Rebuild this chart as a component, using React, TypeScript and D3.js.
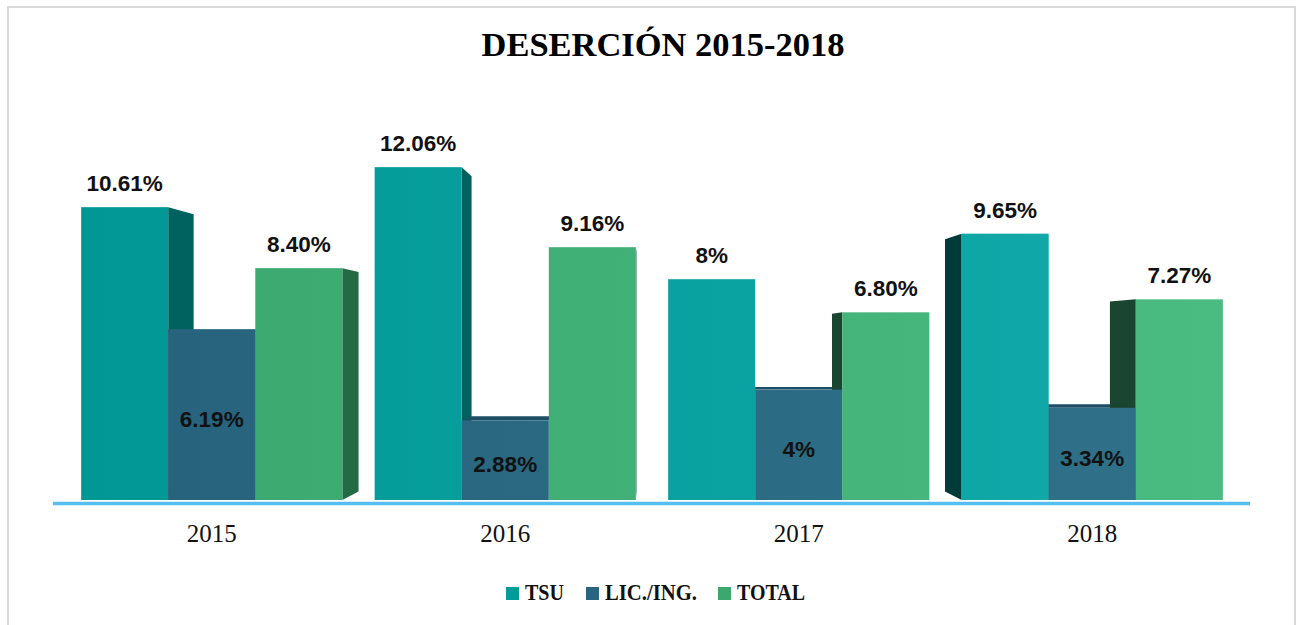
import React from "react";
import * as d3 from "d3";

const years = ["2015", "2016", "2017", "2018"];
const seriesNames = ["TSU", "LIC./ING.", "TOTAL"];
const tsu = [10.61, 12.06, 8, 9.65];
const lic = [6.19, 2.88, 4, 3.34];
const total = [8.4, 9.16, 6.8, 7.27];
const tsuLabels = ["10.61%", "12.06%", "8%", "9.65%"];
const licLabels = ["6.19%", "2.88%", "4%", "3.34%"];
const totalLabels = ["8.40%", "9.16%", "6.80%", "7.27%"];

const W = 1296;
const H = 625;
const baseY = 500;
const VP = { x: 648, y: 340 };
const K = 0.053;

const frontStops = [
  ["#009794", "#13abab"],
  ["#27627c", "#30718a"],
  ["#39a76e", "#4abb81"],
];
const rightSide = ["#00625f", "#1f4d63", "#236b45"];
const leftSide = ["#003b3a", "#163848", "#1a4530"];
const topFace = ["#00615e", "#1e4e66", "#236b45"];
const legendColors = ["#009c99", "#2a6580", "#3ba86e"];

export default function App() {
  const x0 = d3.scaleBand<string>().domain(years).range([65, 1239]).paddingInner(0.11).paddingOuter(0.055);
  const x1 = d3.scaleBand<string>().domain(seriesNames).range([0, x0.bandwidth()]);
  const y = d3.scaleLinear().domain([0, 14]).range([baseY, baseY - 14 * 27.6]);

  const data = [tsu, lic, total];
  const labels = [tsuLabels, licLabels, totalLabels];

  type Bar = { s: number; i: number; xa: number; xb: number; top: number };
  const bars: Bar[] = [];
  years.forEach((yr, i) => {
    seriesNames.forEach((sn, s) => {
      const xa = (x0(yr) as number) + (x1(sn) as number);
      const xb = xa + x1.bandwidth();
      bars.push({ s, i, xa, xb, top: y(data[s][i]) });
    });
  });

  const proj = (px: number, py: number) => [px + K * (VP.x - px), py + K * (VP.y - py)];
  const pts = (arr: number[][]) => arr.map((p) => p.join(",")).join(" ");

  const backFaces: React.ReactNode[] = [];
  bars.forEach((b, idx) => {
    if (b.xb < VP.x) {
      const a = proj(b.xb, b.top);
      const c = proj(b.xb, baseY);
      backFaces.push(
        <polygon key={"r" + idx} points={pts([[b.xb, b.top], a, c, [b.xb, baseY]])} fill={rightSide[b.s]} />
      );
    } else if (b.xa > VP.x + 30) {
      const a = proj(b.xa, b.top);
      const c = proj(b.xa, baseY);
      backFaces.push(
        <polygon key={"l" + idx} points={pts([[b.xa, b.top], a, c, [b.xa, baseY]])} fill={leftSide[b.s]} />
      );
    }
    if (b.top > VP.y) {
      const a = proj(b.xa, b.top);
      const c = proj(b.xb, b.top);
      backFaces.push(
        <polygon key={"t" + idx} points={pts([[b.xa, b.top], a, c, [b.xb, b.top]])} fill={topFace[b.s]} />
      );
    }
  });

  const legendItems = [
    { sq: 506, tx: 525, w: 39 },
    { sq: 586, tx: 605, w: 92 },
    { sq: 718, tx: 737, w: 68 },
  ];

  return (
    <svg width={W} height={H} style={{ position: "absolute", left: 0, top: 0 }}>
      <defs>
        {frontStops.map((st, s) => (
          <linearGradient key={s} id={"g" + s} gradientUnits="userSpaceOnUse" x1={81} y1={0} x2={1222} y2={0}>
            <stop offset="0" stopColor={st[0]} />
            <stop offset="1" stopColor={st[1]} />
          </linearGradient>
        ))}
      </defs>
      <rect x={0} y={0} width={W} height={H} fill="#ffffff" />
      <rect x={8} y={7} width={1287} height={630} fill="#ffffff" stroke="#d9d9d9" strokeWidth={2} />
      <text
        x={663}
        y={56}
        textAnchor="middle"
        fontFamily="'Liberation Serif', serif"
        fontWeight="bold"
        fontSize={34}
        fill="#000"
        textLength={363}
        lengthAdjust="spacingAndGlyphs"
      >
        DESERCIÓN 2015-2018
      </text>
      {backFaces}
      {bars.map((b, idx) => (
        <rect key={"f" + idx} x={b.xa} y={b.top} width={b.xb - b.xa} height={baseY - b.top} fill={`url(#g${b.s})`} />
      ))}
      <line x1={53} x2={1250} y1={503.5} y2={503.5} stroke="#55bdf0" strokeWidth={3.5} />
      {years.map((yr) => (
        <text
          key={yr}
          x={(x0(yr) as number) + x0.bandwidth() / 2}
          y={542}
          textAnchor="middle"
          fontFamily="'Liberation Serif', serif"
          fontSize={25}
          fill="#111"
        >
          {yr}
        </text>
      ))}
      {bars.map((b, idx) => {
        const cx = (b.xa + b.xb) / 2;
        const ty = b.s === 1 ? (b.top + baseY) / 2 + 12 : b.top - 16;
        return (
          <text
            key={"lb" + idx}
            x={cx}
            y={ty}
            textAnchor="middle"
            fontFamily="'Liberation Sans', Arial, sans-serif"
            fontWeight="bold"
            fontSize={22.5}
            fill="#111"
          >
            {labels[b.s][b.i]}
          </text>
        );
      })}
      {seriesNames.map((sn, s) => (
        <g key={sn}>
          <rect x={legendItems[s].sq} y={587} width={13} height={13} fill={legendColors[s]} />
          <text
            x={legendItems[s].tx}
            y={600}
            fontFamily="'Liberation Serif', serif"
            fontWeight="bold"
            fontSize={23}
            fill="#111"
            textLength={legendItems[s].w}
            lengthAdjust="spacingAndGlyphs"
          >
            {sn}
          </text>
        </g>
      ))}
    </svg>
  );
}
